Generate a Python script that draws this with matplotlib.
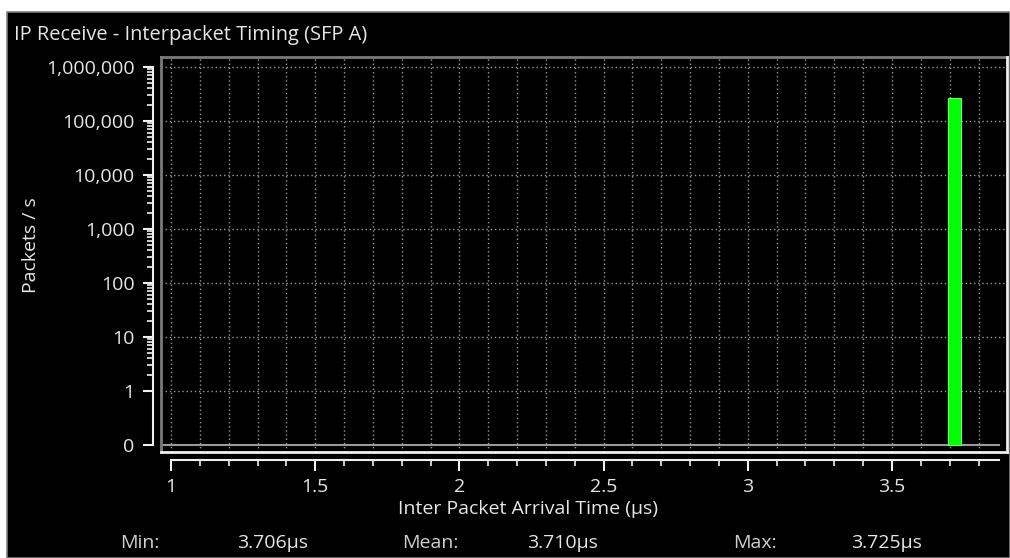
#!/usr/bin/env python3
'''interpacket timing histogram'''
import numpy as np
import matplotlib.pyplot as plt
from matplotlib.patches import Rectangle
from matplotlib.lines import Line2D
from matplotlib.ticker import FixedLocator, FuncFormatter

plt.rcParams['font.family'] = ['Open Sans', 'DejaVu Sans']

# histogram bin (µs) and rate (packets / s)
bin_centers = [3.715]
bin_width = 0.045
packet_rates = [270000]

y_ticks = [0, 1, 10, 100, 1000, 10000, 100000, 1000000]
x_ticks = [1, 1.5, 2, 2.5, 3, 3.5]
stats_names = ['Min:', 'Mean:', 'Max:']
stats_values = ['3.706µs', '3.710µs', '3.725µs']

TXT = '#e6e6e6'
GRID = '#9a9a9a'
FS = 14


def fwd(v):
    # linear from 0 to 1, log above
    v = np.asarray(v, dtype=float)
    return np.where(v < 1, v, np.log10(np.maximum(v, 1)) + 1)


def inv(y):
    y = np.asarray(y, dtype=float)
    return np.where(y < 1, y, 10 ** (np.maximum(y, 1) - 1))


fig = plt.figure(figsize=(10.1, 5.58), dpi=100, facecolor='white')
fig.patches.append(Rectangle((7 / 1010, 0), 1 - 7 / 1010, 1 - 12 / 558,
                             transform=fig.transFigure, facecolor='black',
                             edgecolor='#808080', linewidth=1.2, zorder=-5))
fig.text(14 / 1010, 1 - 35 / 558, 'IP Receive - Interpacket Timing (SFP A)',
         color=TXT, fontsize=14.4, va='center', ha='left')

ax = fig.add_axes([161 / 1010, 1 - 452 / 558, 846 / 1010, 395 / 558])
ax.set_facecolor('black')
ax.set_yscale('function', functions=(fwd, inv))
ax.set_xlim(0.9653, 3.8987)
ax.set_ylim(-0.13, 10 ** 6.185)

# grid
for gx in np.arange(1.0, 3.85, 0.1):
    ax.axvline(gx, color=GRID, linestyle=(0, (1, 2)), linewidth=1, zorder=1)
for gy in y_ticks[1:]:
    ax.axhline(gy, color=GRID, linestyle=(0, (1, 2)), linewidth=1, zorder=1)
ax.axhline(0, color=GRID, linewidth=1.5, zorder=1, xmin=0.002, xmax=0.99)

ax.bar(bin_centers, packet_rates, width=bin_width, color='#00ff00',
       edgecolor='#66ff66', linewidth=0.8, zorder=3)

# frame around plot area
frame = [((0, 0), (0, 1), '#7a7a7a'), ((0, 1), (1, 1), '#7a7a7a'),
         ((1, 1), (1, 0), '#f0f0f0'), ((1, 0), (0, 0), '#f0f0f0')]
for (x0, y0), (x1, y1), c in frame:
    ax.add_line(Line2D([x0, x1], [y0, y1], transform=ax.transAxes,
                       color=c, linewidth=2, clip_on=False, zorder=5))

# detached axes
for s in ['top', 'right']:
    ax.spines[s].set_visible(False)
ax.spines['left'].set_position(('outward', 6))
ax.spines['bottom'].set_position(('outward', 6))
ax.spines['left'].set_bounds(0, 1e6)
ax.spines['bottom'].set_bounds(1, 3.87)
for s in ['left', 'bottom']:
    ax.spines[s].set_color('#f0f0f0')
    ax.spines[s].set_linewidth(1.5)

ax.yaxis.set_major_locator(FixedLocator(y_ticks))
ax.yaxis.set_major_formatter(FuncFormatter(lambda v, p: f'{int(round(v)):,}'))
minor = [m * 10 ** k for k in range(0, 6) for m in range(2, 10)]
ax.yaxis.set_minor_locator(FixedLocator(minor))
ax.yaxis.set_minor_formatter(FuncFormatter(lambda v, p: ''))

ax.xaxis.set_major_locator(FixedLocator(x_ticks))
ax.xaxis.set_major_formatter(FuncFormatter(lambda v, p: f'{v:g}'))
ax.xaxis.set_minor_locator(FixedLocator(np.arange(1.1, 3.85, 0.1)))

ax.tick_params(axis='y', which='major', length=7, width=1.5, color='#f0f0f0',
               labelcolor=TXT, labelsize=FS, pad=6)
ax.tick_params(axis='y', which='minor', length=4, width=1.2, color='#f0f0f0')
ax.tick_params(axis='x', which='major', length=8, width=1.5, color='#f0f0f0',
               labelcolor=TXT, labelsize=FS, pad=5)
ax.tick_params(axis='x', which='minor', length=4, width=1.2, color='#f0f0f0')

fig.text(528 / 1010, 1 - 509 / 558, 'Inter Packet Arrival Time (µs)',
         color=TXT, fontsize=FS, ha='center', va='center')
fig.text(31 / 1010, 1 - 245 / 558, 'Packets / s', color=TXT, fontsize=FS,
         ha='center', va='center', rotation=90)

name_x = [140, 430, 755]
val_x = [273, 562, 887]
for nx, vx, n, v in zip(name_x, val_x, stats_names, stats_values):
    fig.text(nx / 1010, 1 - 543 / 558, n, color='#d0d0d0', fontsize=FS,
             ha='center', va='center')
    fig.text(vx / 1010, 1 - 543 / 558, v, color=TXT, fontsize=FS,
             ha='center', va='center')

fig.savefig('out.png', dpi=100, facecolor='white')
